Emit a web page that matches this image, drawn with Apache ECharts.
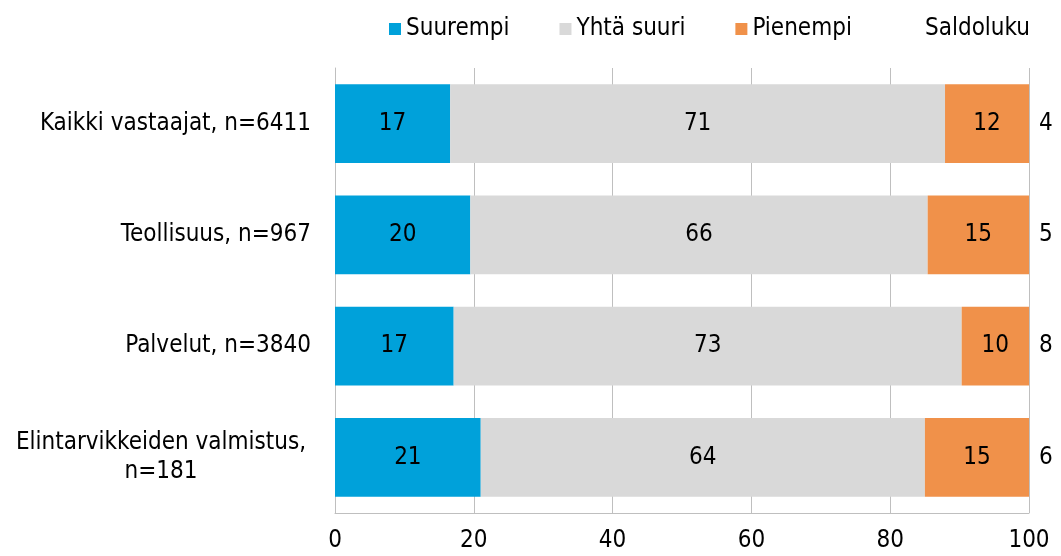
<!DOCTYPE html>
<html>
<head>
<meta charset="utf-8">
<script src="https://cdn.jsdelivr.net/npm/echarts@6/dist/echarts.min.js"></script>
<style>
  html, body { margin: 0; padding: 0; background: #fff; }
  #chart { width: 1061px; height: 556px; }
</style>
</head>
<body>
<div id="chart"></div>
<script>
// rivit ylhäältä alas
const categories = ['Kaikki vastaajat, n=6411', 'Teollisuus, n=967', 'Palvelut, n=3840', 'Elintarvikkeiden valmistus,\nn=181']
const suurempi = [16.6, 19.5, 17.1, 21.0]
const yhtaSuuri = [71.3, 65.9, 73.2, 64.0]
const pienempi = [12.1, 14.6, 9.7, 15.0]
const saldoluku = [4, 5, 8, 6]
const xTicks = [0, 20, 40, 60, 80, 100]

const font = 'DejaVu Sans Condensed'
const fs = 24
const chart = echarts.init(document.getElementById('chart'))

function barSeries (name, data, color) {
  return {
    name: name,
    type: 'bar',
    stack: 'yht',
    barWidth: '71%',
    data: data,
    itemStyle: { color: color },
    label: {
      show: true,
      position: 'inside',
      color: '#000',
      fontFamily: font,
      fontSize: fs,
      formatter: p => Math.round(p.value)
    },
    emphasis: { disabled: true }
  }
}

// pitkä kaksirivinen nimi keskitetään
const yData = categories.map(c => c.indexOf('\n') >= 0
  ? { value: c, textStyle: { align: 'center', padding: [0, 300, 0, 0] } }
  : c)

const legendText = { fontSize: fs, color: '#000', fontFamily: font }

const option = {
  animation: false,
  textStyle: { fontFamily: font },
  legend: [{
    top: 12,
    left: 384,
    icon: 'rect',
    itemWidth: 12,
    itemHeight: 12,
    itemGap: 50,
    textStyle: legendText,
    data: ['Suurempi', 'Yhtä suuri', 'Pienempi']
  }, {
    top: 12,
    left: 903,
    itemWidth: 12,
    itemHeight: 12,
    textStyle: legendText,
    data: [{ name: 'Saldoluku', icon: 'none' }]
  }],
  grid: { left: 335, right: 32, top: 68, bottom: 43, containLabel: false },
  xAxis: {
    type: 'value',
    min: 0,
    max: 100,
    interval: 20,
    axisLine: { show: true, lineStyle: { color: '#bfbfbf' } },
    axisTick: { show: false },
    splitLine: { show: true, lineStyle: { color: '#bfbfbf', width: 1 } },
    axisLabel: {
      fontSize: fs,
      color: '#000',
      fontFamily: font,
      margin: 16,
      customValues: xTicks
    }
  },
  yAxis: {
    type: 'category',
    inverse: true,
    data: yData,
    axisLine: { show: true, lineStyle: { color: '#bfbfbf' } },
    axisTick: { show: false },
    axisLabel: {
      fontSize: fs,
      color: '#000',
      fontFamily: font,
      margin: 24,
      lineHeight: 29
    }
  },
  series: [
    barSeries('Suurempi', suurempi, '#00a1da'),
    barSeries('Yhtä suuri', yhtaSuuri, '#d9d9d9'),
    barSeries('Pienempi', pienempi, '#f0914a'),
    {
      // nollaleveä palkki rivin päähän, saldoluku sen oikealle puolelle
      name: 'Saldoluku',
      type: 'bar',
      stack: 'yht',
      barWidth: '71%',
      itemStyle: { color: 'rgba(0,0,0,0)' },
      data: saldoluku.map(v => ({ value: 0, saldo: v })),
      label: {
        show: true,
        position: 'right',
        distance: 10,
        color: '#000',
        fontSize: fs,
        fontFamily: font,
        formatter: p => p.data.saldo
      },
      emphasis: { disabled: true }
    }
  ]
}

chart.setOption(option)
</script>
</body>
</html>
